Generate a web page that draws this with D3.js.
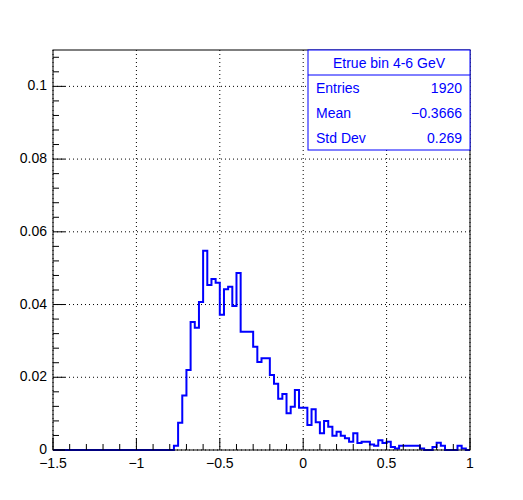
<!DOCTYPE html>
<html><head><meta charset="utf-8">
<script src="https://cdn.jsdelivr.net/npm/d3@7"></script>
<style>body{margin:0;background:#fff}svg{font-family:"Liberation Sans",Arial,sans-serif}</style>
</head><body><svg width="523" height="500"></svg>
<script>
// histogram: 100 bins from -1.5 to 1, bin width 0.025
var binLow = -1.5, binWidth = 0.025, nBins = 100
// non-zero bins, starting at x = -0.775
var firstBin = -0.775
var counts = [0.0012,0.0075,0.015,0.022,0.0352,0.0336,0.0407,0.0548,0.0454,0.047,0.046,0.0372,
  0.0442,0.0449,0.0396,0.0487,0.0325,0.0325,0.0325,0.0284,0.0242,0.0252,0.0252,0.0206,0.0182,
  0.0141,0.0154,0.0101,0.0119,0.0165,0.0116,0.0116,0.0069,0.0112,0.0076,0.0046,0.008,0.0064,
  0.0039,0.005,0.0039,0.0032,0.0023,0.0046,0.0019,0.0023,0.0023,0.0015,0.0012,0.0027,0.0019,
  0.0023,0.0008,0.0004,0.0012,0.0012,0.0012,0.0012,0.0012,0.0004,0,0,0.0008,0.002,0.0012,0,0,0,
  0.0012,0.0004,0]
var xTicks = [-1.5,-1,-0.5,0,0.5,1]
var yTicks = [0,0.02,0.04,0.06,0.08,0.1]
var statsTitle = "Etrue bin 4-6 GeV"
var statsRows = [["Entries","1920"],["Mean","\u22120.3666"],["Std Dev","0.269"]]

var svg = d3.select("svg")
var L = 53, R = 470, T = 50, B = 450
var x = d3.scaleLinear().domain([-1.5,1]).range([L,R])
var y = d3.scaleLinear().domain([0,0.11]).range([B,T])

var vals = []
for (var i = 0; i < nBins; i++) {
  var lo = binLow + i*binWidth
  var k = Math.round((lo - firstBin)/binWidth)
  vals.push({lo: lo, v: (k >= 0 && k < counts.length) ? counts[k] : 0})
}

// grid
svg.selectAll(".gx").data(xTicks).enter().append("line")
  .attr("x1", d => x(d)).attr("x2", d => x(d)).attr("y1", T).attr("y2", B)
  .attr("stroke","#000").attr("stroke-dasharray","1,3")
svg.selectAll(".gy").data(yTicks).enter().append("line")
  .attr("x1", L).attr("x2", R).attr("y1", d => y(d)).attr("y2", d => y(d))
  .attr("stroke","#000").attr("stroke-dasharray","1,3")

// histogram line
var pts = [[x(-1.5), y(0)]]
vals.forEach(function(b) {
  pts.push([x(b.lo), y(b.v)]); pts.push([x(b.lo+binWidth), y(b.v)])
})
pts.push([x(1), y(0)])
svg.append("path").attr("d", d3.line()(pts)).attr("fill","none")
  .attr("stroke","#0000ff").attr("stroke-width",2)

// frame
svg.append("rect").attr("x",L).attr("y",T).attr("width",R-L).attr("height",B-T)
  .attr("fill","none").attr("stroke","#000")

// x ticks (inward)
var xMinor = d3.range(-15,11).map(d => d/10)
svg.selectAll(".xt").data(xMinor).enter().append("line")
  .attr("x1", d => x(d)).attr("x2", d => x(d)).attr("y1", B)
  .attr("y2", d => Math.abs(d*2 - Math.round(d*2)) < 1e-6 ? B-12 : B-6).attr("stroke","#000")
svg.selectAll(".xl").data(xTicks).enter().append("text")
  .attr("x", d => x(d)).attr("y", B+18).attr("text-anchor","middle").attr("font-size",14)
  .text(d => d < 0 ? "\u2212" + Math.abs(d) : d)

// y ticks
var yMinor = d3.range(0,28).map(d => d*0.004)
svg.selectAll(".yt").data(yMinor).enter().append("line")
  .attr("y1", d => y(d)).attr("y2", d => y(d)).attr("x1", L)
  .attr("x2", (d,i) => i % 5 == 0 ? L+12 : L+6).attr("stroke","#000")
svg.selectAll(".yl").data(yTicks).enter().append("text")
  .attr("x", L-6).attr("y", d => y(d)+4).attr("text-anchor","end").attr("font-size",14)
  .text(d => d)

// stats box
var bx = 308, by = 50, bw = 162, bh = 100
svg.append("rect").attr("x",bx).attr("y",by).attr("width",bw).attr("height",bh)
  .attr("fill","#fff").attr("stroke","#0000ff")
svg.append("line").attr("x1",bx).attr("x2",bx+bw).attr("y1",by+25).attr("y2",by+25).attr("stroke","#0000ff")
svg.append("text").attr("x",bx+bw/2).attr("y",by+18).attr("text-anchor","middle")
  .attr("font-size",14).attr("fill","#0000ff").text(statsTitle)
statsRows.forEach(function(r, i) {
  svg.append("text").attr("x",bx+8).attr("y",by+43+i*25).attr("font-size",14).attr("fill","#0000ff").text(r[0])
  svg.append("text").attr("x",bx+bw-8).attr("y",by+43+i*25).attr("text-anchor","end")
    .attr("font-size",14).attr("fill","#0000ff").text(r[1])
})
</script></body></html>
